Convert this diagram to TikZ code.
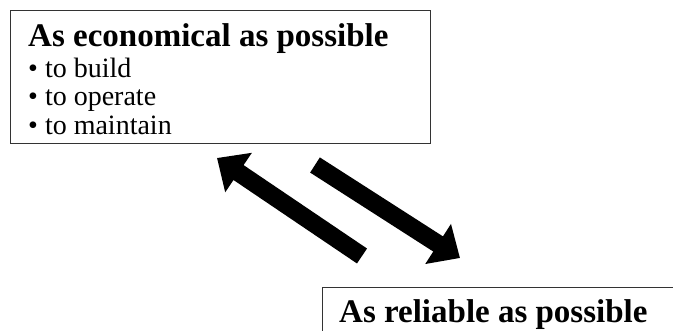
\documentclass[tikz,border=0pt]{standalone}
\usepackage{fontspec}
\setmainfont{Liberation Serif}
\usepackage{tikz}
\usetikzlibrary{arrows.meta,positioning}

\tikzset{
    goalbox/.style={draw=black!80, line width=1.4pt, anchor=north west, inner sep=0pt},
    goalitem/.style={anchor=base west, inner sep=0pt, font=\fontsize{28}{32}\selectfont},
    bigarrow/.style={line width=18pt, -{Triangle[length=26pt,width=46pt]}}
}
\newcommand{\goaltitle}[1]{{\fontsize{33}{38}\selectfont\bfseries #1}}

\begin{document}
\begin{tikzpicture}[x=1pt,y=-1pt]
        \clip (0,0) rectangle (673,331);
        \node[goalbox, minimum width=420pt, minimum height=133pt] (econ) at (10,10) {};
        \node[anchor=base west, inner sep=0pt] (econtext) at (28,47)
            {\goaltitle{As economical as possible}};
        \foreach \what [count=\i] in {to build, to operate, to maintain}
            \node[goalitem] (item\i) at (28,49+28.5*\i) {\textbullet\ \what};
        \node[goalbox, minimum width=420pt, minimum height=120pt] (rel) at (322,287) {};
        \node[anchor=base west, inner sep=0pt] (reltext) at (339,323)
            {\goaltitle{As reliable as possible}};
        \coordinate (upTail) at (362,256);
        \coordinate (upTip) at (217,158);
        \coordinate (dnTail) at (315,165);
        \coordinate (dnTip) at (460,258);
        \draw[bigarrow] (upTail) -- (upTip);
        \draw[bigarrow] (dnTail) -- (dnTip);
    \end{tikzpicture}
\end{document}
